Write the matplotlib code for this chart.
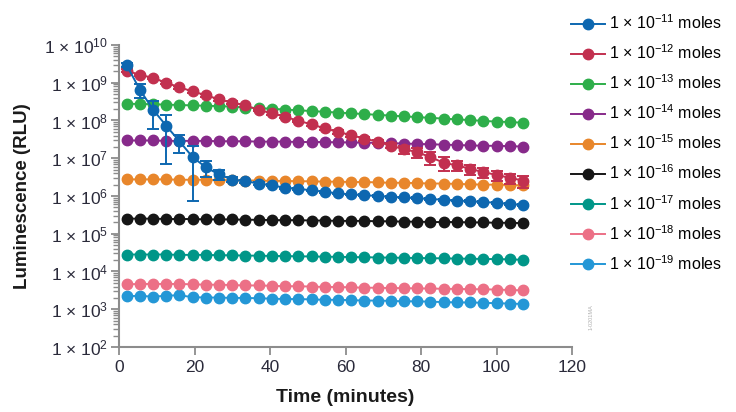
import numpy as np
import matplotlib
matplotlib.use('Agg')
from matplotlib import pyplot as plt
from matplotlib.ticker import FixedLocator, LogLocator, NullFormatter

plt.rcParams['font.family'] = ['Liberation Sans', 'DejaVu Sans']
plt.rcParams['mathtext.default'] = 'regular'

# Read times (minutes)
times = [2, 5.5, 9, 12.5, 16, 19.5, 23, 26.5, 30, 33.5, 37, 40.5, 44, 47.5, 51,
         54.5, 58, 61.5, 65, 68.5, 72, 75.5, 79, 82.5, 86, 89.5, 93, 96.5, 100,
         103.5, 107]

# log10(RLU) for each amount of ATP
log_11 = [9.47, 8.82, 8.29, 7.86, 7.45, 7.03, 6.76, 6.57, 6.43, 6.39, 6.33, 6.28,
          6.22, 6.19, 6.15, 6.11, 6.07, 6.04, 6.02, 6.00, 5.98, 5.96, 5.94, 5.92,
          5.90, 5.88, 5.86, 5.84, 5.82, 5.79, 5.76]
log_12 = [9.32, 9.21, 9.13, 9.00, 8.88, 8.77, 8.67, 8.56, 8.47, 8.40, 8.28, 8.19,
          8.10, 7.99, 7.90, 7.79, 7.70, 7.61, 7.52, 7.44, 7.33, 7.24, 7.16, 7.03,
          6.88, 6.81, 6.72, 6.63, 6.56, 6.48, 6.41]
log_13 = [8.44, 8.44, 8.43, 8.42, 8.41, 8.40, 8.39, 8.38, 8.37, 8.34, 8.33, 8.31,
          8.29, 8.27, 8.25, 8.23, 8.21, 8.19, 8.17, 8.15, 8.13, 8.11, 8.09, 8.07,
          8.05, 8.03, 8.01, 7.99, 7.97, 7.96, 7.94]
log_14 = [7.47, 7.47, 7.47, 7.46, 7.46, 7.46, 7.46, 7.45, 7.45, 7.45, 7.44, 7.44,
          7.44, 7.43, 7.43, 7.43, 7.42, 7.42, 7.41, 7.41, 7.40, 7.39, 7.38, 7.37,
          7.36, 7.35, 7.34, 7.33, 7.33, 7.32, 7.31]
log_15 = [6.44, 6.44, 6.44, 6.44, 6.43, 6.43, 6.43, 6.42, 6.42, 6.41, 6.41, 6.40,
          6.40, 6.39, 6.39, 6.38, 6.38, 6.37, 6.37, 6.36, 6.35, 6.35, 6.34, 6.33,
          6.33, 6.32, 6.31, 6.30, 6.30, 6.29, 6.28]
log_16 = [5.40, 5.40, 5.40, 5.39, 5.39, 5.39, 5.38, 5.38, 5.38, 5.37, 5.37, 5.36,
          5.36, 5.36, 5.35, 5.35, 5.34, 5.34, 5.34, 5.33, 5.33, 5.32, 5.32, 5.31,
          5.31, 5.31, 5.30, 5.30, 5.29, 5.29, 5.28]
log_17 = [4.45, 4.45, 4.45, 4.45, 4.44, 4.44, 4.44, 4.43, 4.43, 4.42, 4.42, 4.41,
          4.41, 4.40, 4.40, 4.39, 4.39, 4.38, 4.38, 4.37, 4.37, 4.36, 4.36, 4.35,
          4.35, 4.34, 4.34, 4.33, 4.33, 4.32, 4.31]
log_18 = [3.66, 3.67, 3.67, 3.67, 3.67, 3.66, 3.65, 3.65, 3.64, 3.63, 3.63, 3.62,
          3.61, 3.61, 3.60, 3.59, 3.59, 3.58, 3.57, 3.57, 3.56, 3.56, 3.55, 3.55,
          3.54, 3.54, 3.53, 3.53, 3.52, 3.51, 3.50]
log_19 = [3.34, 3.36, 3.33, 3.36, 3.37, 3.32, 3.31, 3.31, 3.30, 3.30, 3.29, 3.28,
          3.27, 3.27, 3.26, 3.25, 3.25, 3.24, 3.23, 3.23, 3.22, 3.21, 3.21, 3.20,
          3.19, 3.18, 3.18, 3.17, 3.16, 3.15, 3.14]

# Relative standard deviation for the two highest amounts
sd_11 = [0.10, 0.40, 0.70, 0.90, 0.50, 0.93, 0.45, 0.30, 0.15, 0.10, 0.08, 0.06,
         0.05, 0.05, 0.05, 0.05, 0.05, 0.05, 0.05, 0.05, 0.05, 0.05, 0.05, 0.05,
         0.05, 0.05, 0.05, 0.05, 0.05, 0.05, 0.05]
sd_12 = [0.08, 0.08, 0.08, 0.08, 0.08, 0.08, 0.08, 0.08, 0.08, 0.08, 0.08, 0.08,
         0.08, 0.08, 0.08, 0.08, 0.10, 0.10, 0.12, 0.12, 0.15, 0.25, 0.30, 0.40,
         0.40, 0.30, 0.30, 0.30, 0.30, 0.30, 0.35]

exponents = [-11, -12, -13, -14, -15, -16, -17, -18, -19]
series = [log_11, log_12, log_13, log_14, log_15, log_16, log_17, log_18, log_19]
errors = {-11: sd_11, -12: sd_12}
colors = ['#0d67b0', '#c2304f', '#2eae4a', '#872a8a', '#e8862b', '#161616',
          '#009688', '#ec7086', '#2497d6']
labels = [r'1 $\times$ 10$^{%d}$ moles' % e for e in exponents]

fig = plt.figure(figsize=(7.36, 4.12), dpi=100)
ax = fig.add_axes([0.1617, 0.1578, 0.6155, 0.733])

handles = [None] * len(series)
# lowest amounts first so the top curves sit above them
for k in range(len(series) - 1, -1, -1):
    exp = exponents[k]
    y = 10 ** np.array(series[k])
    if exp in errors:
        err = np.array(errors[exp]) * y
        eb = ax.errorbar(times, y, yerr=err, fmt='-o', color=colors[k], ms=7.5,
                         lw=1.4, elinewidth=1.4, capsize=4, capthick=1.4,
                         zorder=10 - k)
        handles[k] = eb.lines[0]
    else:
        handles[k], = ax.plot(times, y, '-o', color=colors[k], ms=7.5, lw=1.4,
                              zorder=10 - k)

ax.set_yscale('log')
ax.set_xlim(0, 120)
ax.set_ylim(1e2, 1e10)
ax.set_xticks(range(0, 121, 20))
ax.yaxis.set_major_locator(FixedLocator([10.0 ** p for p in range(2, 11)]))
ax.yaxis.set_minor_locator(LogLocator(base=10, subs=np.arange(2, 10), numticks=20))
ax.yaxis.set_minor_formatter(NullFormatter())
ax.set_yticklabels([r'1 $\times$ 10$^{%d}$' % p for p in range(2, 11)])

grey = '#8c8c8c'
for side in ['top', 'right']:
    ax.spines[side].set_visible(False)
for side in ['left', 'bottom']:
    ax.spines[side].set_color(grey)
    ax.spines[side].set_linewidth(1.5)
ax.tick_params(axis='both', which='major', color=grey, width=1.3, length=6,
               labelsize=12.5, labelcolor='#2a2a3a')
ax.tick_params(axis='y', which='minor', color=grey, width=1.0, length=4)
ax.tick_params(axis='y', which='major', pad=2)
ax.spines['left'].set_zorder(20)

ax.set_xlabel('Time (minutes)', fontsize=14, fontweight='bold', color='#1a1a1a',
              labelpad=10)
ax.set_ylabel('Luminescence (RLU)', fontsize=13.5, fontweight='bold', color='#1a1a1a',
              labelpad=9)

fig.legend(handles, labels, loc='upper left',
           bbox_to_anchor=(0.776, 0.967), frameon=False, fontsize=11.5,
           handlelength=2.1, handletextpad=0.25, labelspacing=0.71,
           borderaxespad=0, borderpad=0)

fig.text(0.803, 0.23, '1-0201MA', rotation=90, fontsize=4, color='#b0b0b0',
         ha='center', va='center')

plt.savefig('out.png', dpi=100)
